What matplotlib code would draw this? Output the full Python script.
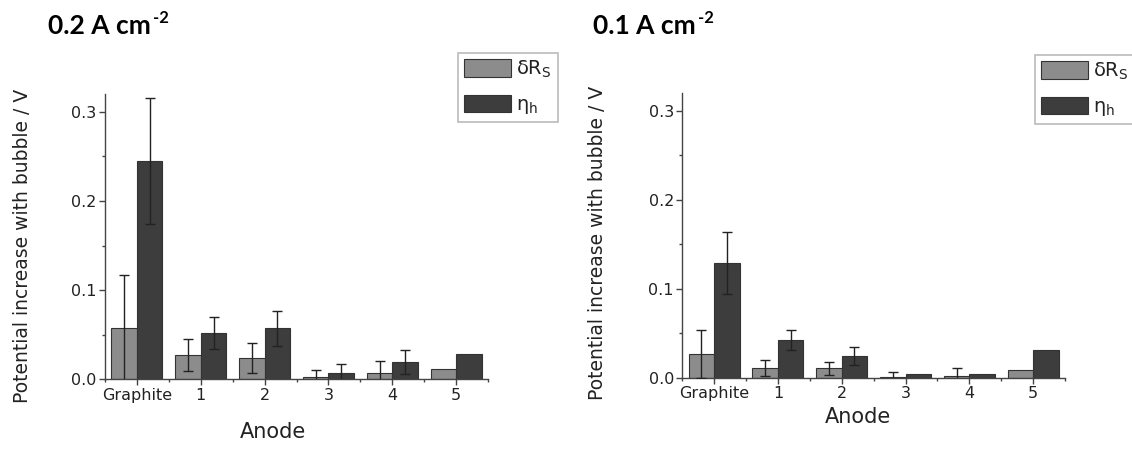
import numpy as np
import matplotlib
matplotlib.use('Agg')
import matplotlib.pyplot as plt
from matplotlib.ticker import MultipleLocator, FormatStrFormatter

# Categorias (anodos)
anodes = ['Graphite', '1', '2', '3', '4', '5']

# 0.2 A cm-2
drs_02 = [0.057, 0.027, 0.024, 0.003, 0.0075, 0.012]
drs_02_err = [0.060, 0.018, 0.017, 0.007, 0.013, np.nan]
eta_02 = [0.245, 0.052, 0.057, 0.0067, 0.0195, 0.028]
eta_02_err = [0.071, 0.018, 0.020, 0.010, 0.013, np.nan]

# 0.1 A cm-2
drs_01 = [0.0266, 0.0105, 0.0105, 0.001, 0.0022, 0.009]
drs_01_err = [0.027, 0.009, 0.0075, 0.0055, 0.009, np.nan]
eta_01 = [0.129, 0.0427, 0.0244, 0.0037, 0.0045, 0.0315]
eta_01_err = [0.035, 0.011, 0.010, np.nan, np.nan, np.nan]

titles = ['0.2 A cm', '0.1 A cm']

light = '#8c8c8c'
dark = '#3d3d3d'
edge = '#333333'
txt = '#222222'

plt.rcParams['font.family'] = ['DejaVu Sans']

fig = plt.figure(figsize=(11.32, 4.5), dpi=100)
ax1 = fig.add_axes([0.0928, 0.1571, 0.3383, 0.634])
ax2 = fig.add_axes([0.6027, 0.1607, 0.3381, 0.632])

x = np.arange(len(anodes))
w = 0.4

panels = [
    (ax1, drs_02, drs_02_err, eta_02, eta_02_err),
    (ax2, drs_01, drs_01_err, eta_01, eta_01_err),
]

for ax, drs, drs_err, eta, eta_err in panels:
    ax.bar(x - w / 2, drs, w, color=light, edgecolor=edge, linewidth=0.8,
           label='δR$_\\mathregular{S}$', zorder=2)
    ax.bar(x + w / 2, eta, w, color=dark, edgecolor=edge, linewidth=0.8,
           label='η$_\\mathregular{h}$', zorder=2)
    ax.errorbar(x - w / 2, drs, yerr=drs_err, fmt='none', ecolor=txt,
                elinewidth=1, capsize=3.5, capthick=1, zorder=3)
    ax.errorbar(x + w / 2, eta, yerr=eta_err, fmt='none', ecolor=txt,
                elinewidth=1, capsize=3.5, capthick=1, zorder=3)

    ax.set_xlim(-0.5, 5.5)
    ax.set_ylim(0, 0.32)
    ax.set_xticks(x)
    ax.set_xticklabels(anodes)
    ax.xaxis.set_minor_locator(MultipleLocator(1, offset=0.5))
    ax.yaxis.set_major_locator(MultipleLocator(0.1))
    ax.yaxis.set_minor_locator(MultipleLocator(0.05))
    ax.yaxis.set_major_formatter(FormatStrFormatter('%.1f'))

    for s in ['top', 'right']:
        ax.spines[s].set_visible(False)
    for s in ['left', 'bottom']:
        ax.spines[s].set_color('#444444')
        ax.spines[s].set_linewidth(1.0)
    ax.tick_params(which='major', direction='out', length=4, width=1,
                   color='#444444', labelsize=11.5, labelcolor=txt, pad=2)
    ax.tick_params(which='minor', direction='out', length=2.5, width=1,
                   color='#444444')

    ax.set_ylabel('Potential increase with bubble / V', fontsize=13.5, color=txt)
    ax.set_xlabel('Anode', fontsize=15, color=txt)

ax1.yaxis.set_label_coords(-0.19, 0.467)
ax2.yaxis.set_label_coords(-0.196, 0.474)
ax1.xaxis.set_label_coords(0.439, -0.150)
ax2.xaxis.set_label_coords(0.46, -0.103)

# Titulos com expoente -2
for tx, title in zip([48, 593], titles):
    t = fig.text(tx / 1132, 1 - 34 / 450, title, fontsize=19, fontweight='bold',
                 family='Lato', ha='left', va='baseline')
    ax1.annotate('-2', xy=(1, 1), xycoords=t, xytext=(1.5, 3),
                 textcoords='offset points', fontsize=12, fontweight='bold',
                 family='Lato', ha='left', va='top', annotation_clip=False)

# Legendas
for ax, (lx, ly) in [(ax1, (458 / 1132, 1 - 53 / 450)),
                     (ax2, (1035 / 1132, 1 - 55 / 450))]:
    leg = ax.legend(loc='upper left', bbox_to_anchor=(lx, ly),
                    bbox_transform=fig.transFigure, fontsize=14,
                    handlelength=2.4, handleheight=1.0, handletextpad=0.3,
                    labelspacing=0.75, borderpad=0.3, borderaxespad=0,
                    fancybox=False, framealpha=1, edgecolor='#bbbbbb')
    leg.get_frame().set_linewidth(1.2)
    for tl in leg.get_texts():
        tl.set_color(txt)

plt.savefig('out.png', dpi=100)
